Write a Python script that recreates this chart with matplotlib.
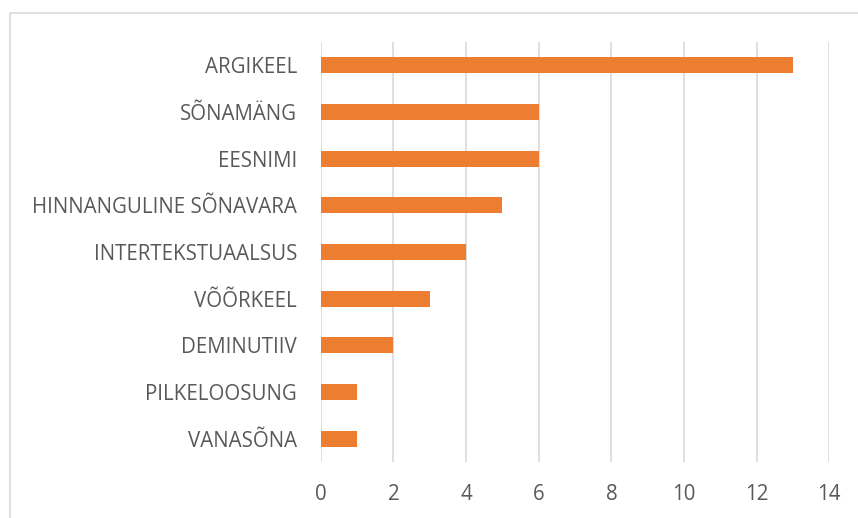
import matplotlib
matplotlib.use("Agg")
import matplotlib.pyplot as plt
from matplotlib.patches import Rectangle

categories = ["ARGIKEEL", "SÕNAMÄNG", "EESNIMI", "HINNANGULINE SÕNAVARA",
              "INTERTEKSTUAALSUS", "VÕÕRKEEL", "DEMINUTIIV", "PILKELOOSUNG",
              "VANASÕNA"]
values = [13, 6, 6, 5, 4, 3, 2, 1, 1]
x_ticks = [0, 2, 4, 6, 8, 10, 12, 14]

text_color = "#595959"
grid_color = "#d9d9d9"
bar_color = "#ed7d31"

plt.rcParams["font.family"] = ["Open Sans", "DejaVu Sans"]

fig = plt.figure(figsize=(8.58, 5.18), dpi=100)
fig.patches.append(Rectangle((9.5 / 858, -0.5), 2.0, 0.5 + 1 - 12.7 / 518,
                             transform=fig.transFigure, fill=False,
                             edgecolor=grid_color, linewidth=1.2))

ax = fig.add_axes([0.3738, 0.1081, 0.5928, 0.8108])
pos = list(range(len(categories)))[::-1]
ax.barh(pos, values, height=0.343, color=bar_color, zorder=3)

ax.set_xlim(0, 14)
ax.set_ylim(-0.5, len(categories) - 0.5)
ax.set_xticks(x_ticks)
ax.set_xticklabels([str(t) for t in x_ticks])
ax.set_yticks(pos)
ax.set_yticklabels(categories)

ax.grid(axis="x", color=grid_color, linewidth=1.2, zorder=0)
for s in ax.spines.values():
    s.set_visible(False)
ax.tick_params(axis="both", length=0, colors=text_color, labelsize=14.8)
ax.tick_params(axis="y", pad=17)
ax.tick_params(axis="x", pad=16)

fig.savefig("out.png", dpi=100)
